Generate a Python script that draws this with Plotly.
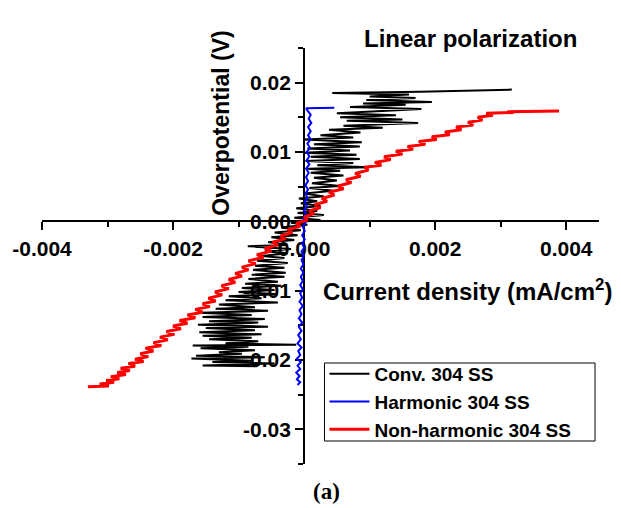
import plotly.graph_objects as go

# ---------------- data ----------------
conv_x = [-0.72e-3, -1.55e-3, -0.45e-3, -1.40e-3, -0.80e-3, -1.72e-3, -0.60e-3, -1.65e-3, -0.95e-3, -1.30e-3,
          -0.75e-3, -1.58e-3, -0.85e-3, -1.70e-3, -0.12e-3, -1.20e-3, -0.70e-3, -1.45e-3, -0.80e-3, -1.55e-3,
          -0.65e-3, -1.60e-3, -0.75e-3, -1.50e-3, -0.55e-3, -1.62e-3, -0.70e-3, -1.45e-3, -0.60e-3, -1.55e-3,
          -0.80e-3, -1.60e-3, -0.55e-3, -1.35e-3, -0.75e-3, -1.30e-3, -0.40e-3, -1.20e-3, -0.65e-3, -1.15e-3,
          -0.40e-3, -1.00e-3, -0.45e-3, -0.95e-3, -0.35e-3, -0.90e-3, -0.40e-3, -0.85e-3, -0.30e-3, -0.80e-3,
          -0.28e-3, -0.78e-3, -0.30e-3, -0.75e-3, -0.25e-3, -0.72e-3, -0.30e-3, -0.65e-3, -0.25e-3, -0.60e-3,
          -0.20e-3, -0.86e-3, -0.25e-3, -0.55e-3, -0.15e-3, -0.50e-3, -0.10e-3, -0.45e-3, -0.05e-3, -0.35e-3,
          0.05e-3, -0.20e-3,
          0.25e-3, -0.15e-3, 0.30e-3, -0.10e-3, 0.20e-3, -0.12e-3, 0.25e-3, -0.05e-3, 0.20e-3, -0.08e-3,
          0.30e-3, 0.00e-3, 0.45e-3, 0.08e-3, 0.55e-3, 0.12e-3, 0.50e-3, 0.15e-3, 0.60e-3, 0.10e-3,
          0.55e-3, 0.05e-3, 0.98e-3, 0.20e-3, 0.75e-3, 0.02e-3, 0.85e-3, 0.10e-3, 0.80e-3, 0.00e-3,
          0.70e-3, 0.05e-3, 0.85e-3, 0.15e-3, 0.88e-3, 0.00e-3, 0.75e-3, 0.25e-3, 0.86e-3, 0.38e-3,
          1.20e-3, 0.60e-3, 1.74e-3, 0.65e-3, 1.50e-3, 0.55e-3, 1.40e-3, 0.50e-3, 1.79e-3, 0.70e-3,
          1.55e-3, 0.90e-3, 1.95e-3, 0.95e-3, 1.70e-3, 1.00e-3, 1.60e-3, 0.43e-3, 1.77e-3, 3.17e-3]
conv_y = [-20.9e-3, -20.8e-3, -20.5e-3, -20.3e-3, -20.1e-3, -19.8e-3, -19.6e-3, -19.4e-3, -19.1e-3, -18.9e-3,
          -18.6e-3, -18.3e-3, -18.1e-3, -17.9e-3, -17.8e-3, -17.6e-3, -17.3e-3, -17.0e-3, -16.8e-3, -16.5e-3,
          -16.3e-3, -16.0e-3, -15.7e-3, -15.4e-3, -15.2e-3, -14.9e-3, -14.6e-3, -14.4e-3, -14.1e-3, -13.8e-3,
          -13.5e-3, -13.2e-3, -12.9e-3, -12.6e-3, -12.4e-3, -12.0e-3, -11.7e-3, -11.4e-3, -11.1e-3, -10.8e-3,
          -10.5e-3, -10.2e-3, -9.9e-3, -9.6e-3, -9.3e-3, -9.0e-3, -8.7e-3, -8.3e-3, -8.0e-3, -7.7e-3,
          -7.4e-3, -7.0e-3, -6.7e-3, -6.4e-3, -6.0e-3, -5.7e-3, -5.3e-3, -5.0e-3, -4.6e-3, -4.3e-3,
          -4.0e-3, -3.6e-3, -3.4e-3, -3.0e-3, -2.7e-3, -2.3e-3, -2.0e-3, -1.6e-3, -1.3e-3, -0.9e-3,
          -0.5e-3, -0.2e-3,
          0.2e-3, 0.5e-3, 0.9e-3, 1.2e-3, 1.5e-3, 1.9e-3, 2.2e-3, 2.6e-3, 2.9e-3, 3.3e-3,
          3.6e-3, 4.0e-3, 4.4e-3, 4.8e-3, 5.1e-3, 5.5e-3, 5.9e-3, 6.3e-3, 6.6e-3, 7.0e-3,
          7.3e-3, 7.6e-3, 7.8e-3, 8.1e-3, 8.4e-3, 8.7e-3, 9.0e-3, 9.3e-3, 9.6e-3, 9.9e-3,
          10.2e-3, 10.5e-3, 10.8e-3, 11.1e-3, 11.4e-3, 11.8e-3, 12.1e-3, 12.4e-3, 12.8e-3, 13.2e-3,
          13.5e-3, 13.8e-3, 14.2e-3, 14.5e-3, 14.7e-3, 15.0e-3, 15.3e-3, 15.6e-3, 16.2e-3, 16.5e-3,
          16.8e-3, 17.0e-3, 17.2e-3, 17.5e-3, 17.8e-3, 18.0e-3, 18.3e-3, 18.5e-3, 18.7e-3, 19.0e-3]

harm_x = [-0.10e-3, -0.06e-3, -0.11e-3, -0.07e-3, -0.12e-3, -0.06e-3, -0.10e-3, -0.05e-3, -0.11e-3, -0.06e-3,
          -0.09e-3, -0.04e-3, -0.10e-3, -0.05e-3, -0.09e-3, -0.04e-3, -0.08e-3, -0.03e-3, -0.08e-3, -0.04e-3,
          -0.07e-3, -0.02e-3, -0.07e-3, -0.03e-3, -0.06e-3, -0.02e-3, -0.06e-3, -0.02e-3, -0.05e-3, -0.01e-3,
          -0.05e-3, -0.01e-3, -0.04e-3, 0.00e-3, -0.04e-3, 0.00e-3, -0.03e-3, 0.01e-3, -0.03e-3, 0.01e-3,
          -0.02e-3, 0.02e-3, -0.01e-3, 0.03e-3, 0.00e-3, 0.04e-3, 0.01e-3, 0.05e-3, 0.02e-3, 0.06e-3,
          0.02e-3, 0.06e-3, 0.03e-3, 0.07e-3, 0.03e-3, 0.08e-3, 0.04e-3, 0.08e-3, 0.04e-3, 0.09e-3,
          0.05e-3, 0.10e-3, 0.06e-3, 0.10e-3, 0.06e-3, 0.11e-3, 0.07e-3, 0.10e-3, 0.05e-3, 0.03e-3, 0.46e-3]
harm_y = [-23.6e-3, -23.2e-3, -22.8e-3, -22.3e-3, -21.8e-3, -21.3e-3, -20.8e-3, -20.3e-3, -19.8e-3, -19.3e-3,
          -18.7e-3, -18.2e-3, -17.6e-3, -17.0e-3, -16.4e-3, -15.8e-3, -15.2e-3, -14.6e-3, -14.0e-3, -13.4e-3,
          -12.8e-3, -12.2e-3, -11.6e-3, -11.0e-3, -10.4e-3, -9.8e-3, -9.2e-3, -8.6e-3, -8.0e-3, -7.4e-3,
          -6.8e-3, -6.2e-3, -5.6e-3, -5.0e-3, -4.4e-3, -3.8e-3, -3.2e-3, -2.6e-3, -2.0e-3, -1.4e-3,
          -0.8e-3, -0.2e-3, 0.4e-3, 1.0e-3, 1.6e-3, 2.2e-3, 2.8e-3, 3.4e-3, 4.0e-3, 4.6e-3,
          5.2e-3, 5.8e-3, 6.4e-3, 7.0e-3, 7.6e-3, 8.2e-3, 8.8e-3, 9.4e-3, 10.0e-3, 10.6e-3,
          11.2e-3, 11.8e-3, 12.4e-3, 13.0e-3, 13.6e-3, 14.2e-3, 14.8e-3, 15.4e-3, 16.0e-3, 16.3e-3, 16.4e-3]

nonh_x = [-3.30e-3, -2.98e-3, -3.12e-3, -2.90e-3, -3.02e-3, -2.82e-3, -2.95e-3, -2.72e-3, -2.85e-3, -2.66e-3,
          -2.80e-3, -2.58e-3, -2.68e-3, -2.45e-3, -2.58e-3, -2.38e-3, -2.50e-3, -2.30e-3, -2.42e-3, -2.18e-3,
          -2.30e-3, -2.08e-3, -2.20e-3, -1.98e-3, -2.10e-3, -1.88e-3, -2.00e-3, -1.78e-3, -1.90e-3, -1.66e-3,
          -1.78e-3, -1.55e-3, -1.66e-3, -1.44e-3, -1.55e-3, -1.35e-3, -1.46e-3, -1.25e-3, -1.36e-3, -1.15e-3,
          -1.26e-3, -1.05e-3, -1.15e-3, -0.95e-3, -1.05e-3, -0.85e-3, -0.95e-3, -0.74e-3, -0.85e-3, -0.62e-3,
          -0.72e-3, -0.50e-3, -0.60e-3, -0.40e-3, -0.48e-3, -0.28e-3, -0.36e-3, -0.18e-3, -0.25e-3, -0.06e-3,
          -0.12e-3, 0.05e-3,
          0.00e-3, 0.15e-3, 0.08e-3, 0.25e-3, 0.16e-3, 0.35e-3, 0.27e-3, 0.46e-3, 0.38e-3, 0.60e-3,
          0.52e-3, 0.72e-3, 0.64e-3, 0.86e-3, 0.78e-3, 0.98e-3, 0.92e-3, 1.18e-3, 1.08e-3, 1.32e-3,
          1.22e-3, 1.50e-3, 1.40e-3, 1.66e-3, 1.58e-3, 1.85e-3, 1.75e-3, 2.02e-3, 1.95e-3, 2.22e-3,
          2.15e-3, 2.40e-3, 2.32e-3, 2.58e-3, 2.50e-3, 2.72e-3, 2.65e-3, 2.88e-3, 2.78e-3, 3.20e-3,
          3.10e-3, 3.89e-3]
nonh_y = [-23.85e-3, -23.75e-3, -23.45e-3, -23.2e-3, -22.95e-3, -22.7e-3, -22.4e-3, -22.1e-3, -21.8e-3, -21.5e-3,
          -21.2e-3, -20.9e-3, -20.5e-3, -20.2e-3, -19.9e-3, -19.5e-3, -19.1e-3, -18.7e-3, -18.3e-3, -17.9e-3,
          -17.5e-3, -17.1e-3, -16.7e-3, -16.3e-3, -15.9e-3, -15.5e-3, -15.1e-3, -14.7e-3, -14.3e-3, -13.9e-3,
          -13.5e-3, -13.1e-3, -12.7e-3, -12.3e-3, -11.9e-3, -11.5e-3, -11.1e-3, -10.6e-3, -10.2e-3, -9.7e-3,
          -9.3e-3, -8.8e-3, -8.4e-3, -7.9e-3, -7.5e-3, -7.0e-3, -6.6e-3, -6.1e-3, -5.7e-3, -5.2e-3,
          -4.8e-3, -4.3e-3, -3.9e-3, -3.4e-3, -3.0e-3, -2.5e-3, -2.1e-3, -1.6e-3, -1.2e-3, -0.7e-3,
          -0.3e-3, 0.2e-3,
          0.6e-3, 1.1e-3, 1.5e-3, 2.0e-3, 2.4e-3, 2.9e-3, 3.3e-3, 3.8e-3, 4.2e-3, 4.7e-3,
          5.1e-3, 5.6e-3, 6.0e-3, 6.5e-3, 6.9e-3, 7.4e-3, 7.8e-3, 8.1e-3, 8.5e-3, 8.9e-3,
          9.3e-3, 9.7e-3, 10.1e-3, 10.4e-3, 10.8e-3, 11.1e-3, 11.5e-3, 11.8e-3, 12.2e-3, 12.5e-3,
          12.9e-3, 13.2e-3, 13.6e-3, 13.9e-3, 14.3e-3, 14.6e-3, 15.0e-3, 15.3e-3, 15.6e-3, 15.7e-3,
          15.8e-3, 15.9e-3]

series_names = ["Conv. 304 SS", "Harmonic 304 SS", "Non-harmonic 304 SS"]

x_tick_vals = [-0.004, -0.002, 0.0, 0.002, 0.004]
x_tick_text = ["-0.004", "-0.002", "0.000", "0.002", "0.004"]
y_tick_vals = [0.02, 0.01, 0.0, -0.01, -0.02, -0.03]
y_tick_text = ["0.02", "0.01", "0.00", "-0.01", "-0.02", "-0.03"]

x_range = [-0.004, 0.0045]
y_range = [-0.035, 0.025]

# ---------------- figure ----------------
SANS = "Liberation Sans, Arial, sans-serif"
W, H = 621, 508
ML, MR, MT, MB = 39, 22, 48, 44
PW, PH = W - ML - MR, H - MT - MB


def px_to_paper(px, py):
    return (px - ML) / PW, 1 - (py - MT) / PH


fig = go.Figure()
fig.add_trace(go.Scatter(x=conv_x, y=conv_y, mode="lines", name=series_names[0],
                         line=dict(color="#000000", width=2)))
fig.add_trace(go.Scatter(x=harm_x, y=harm_y, mode="lines", name=series_names[1],
                         line=dict(color="#0000ff", width=2)))
fig.add_trace(go.Scatter(x=nonh_x, y=nonh_y, mode="lines", name=series_names[2],
                         line=dict(color="#ff0000", width=3)))

# axes cross at the origin
x_pos = (0 - y_range[0]) / (y_range[1] - y_range[0])
y_pos = (0 - x_range[0]) / (x_range[1] - x_range[0])

axis_common = dict(
    showline=True, linecolor="black", linewidth=2,
    ticks="outside", ticklen=8, tickwidth=2, tickcolor="black",
    showgrid=False, zeroline=False,
    tickfont=dict(family=SANS, size=21, color="black", weight="bold"),
    layer="below traces",
)

leg_x, leg_y = px_to_paper(323, 355)
box_x0, box_y0 = px_to_paper(323, 441)
box_x1, box_y1 = px_to_paper(595, 363)

fig.update_layout(
    width=W, height=H,
    margin=dict(l=ML, r=MR, t=MT, b=MB),
    paper_bgcolor="white", plot_bgcolor="white",
    xaxis=dict(range=x_range, anchor="free", position=x_pos,
               tickvals=x_tick_vals, ticktext=x_tick_text,
               minor=dict(dtick=0.001, ticks="outside", ticklen=5, tickwidth=2, tickcolor="black"),
               **axis_common),
    yaxis=dict(range=y_range, anchor="free", position=y_pos,
               tickvals=y_tick_vals, ticktext=y_tick_text,
               minor=dict(dtick=0.005, ticks="outside", ticklen=5, tickwidth=2, tickcolor="black"),
               **axis_common),
    legend=dict(x=leg_x, y=leg_y, xanchor="left", yanchor="top",
                bgcolor="rgba(0,0,0,0)", borderwidth=0,
                font=dict(family=SANS, size=19, color="black", weight="bold"),
                itemwidth=40, tracegroupgap=0),
    showlegend=True,
)

# legend frame
fig.add_shape(type="rect", xref="paper", yref="paper",
              x0=box_x0, y0=box_y0, x1=box_x1, y1=box_y1,
              line=dict(color="black", width=1), fillcolor="white", layer="above")

fig.add_annotation(text="Linear polarization", xref="paper", yref="paper",
                   x=0.769, y=1.022, xanchor="center", yanchor="middle", showarrow=False,
                   font=dict(family=SANS, size=24, color="black", weight="bold"))
fig.add_annotation(text="Overpotential (V)", xref="paper", yref="paper",
                   x=0.321, y=0.82, xanchor="center", yanchor="middle", showarrow=False,
                   textangle=-90,
                   font=dict(family=SANS, size=23, color="black", weight="bold"))
fig.add_annotation(text="Current density (mA/cm<sup>2</sup>)", xref="paper", yref="paper",
                   x=0.764, y=0.418, xanchor="center", yanchor="middle", showarrow=False,
                   font=dict(family=SANS, size=24, color="black", weight="bold"))
fig.add_annotation(text="(a)", xref="paper", yref="paper",
                   x=0.51, y=-0.066, xanchor="center", yanchor="middle", showarrow=False,
                   font=dict(family="Liberation Serif, Times New Roman, serif", size=23,
                             color="black", weight="bold"))

fig.write_html("out.html", config={"displayModeBar": False},
               post_script="document.body.style.margin='0';document.body.style.padding='0';")
